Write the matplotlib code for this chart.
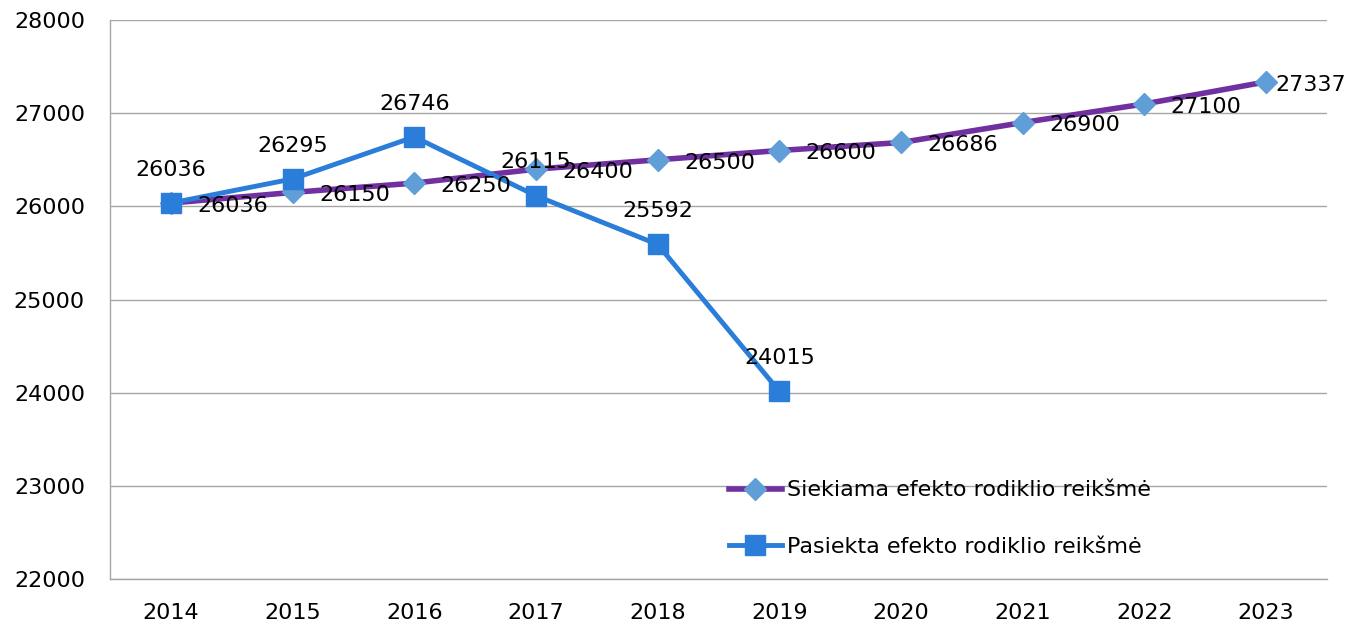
import numpy as np
import matplotlib.pyplot as plt

plt.rcParams['font.family'] = ['DejaVu Sans']

# duomenys
years = ['2014', '2015', '2016', '2017', '2018', '2019', '2020', '2021', '2022', '2023']
target = [26036, 26150, 26250, 26400, 26500, 26600, 26686, 26900, 27100, 27337]
achieved = [26036, 26295, 26746, 26115, 25592, 24015]
target_label = 'Siekiama efekto rodiklio reikšmė'
achieved_label = 'Pasiekta efekto rodiklio reikšmė'

fig = plt.figure(figsize=(13.48, 6.28), dpi=100)
ax = fig.add_axes([0.0816, 0.078, 0.9028, 0.890])

x = np.arange(len(years))
xa = np.arange(len(achieved))

ax.plot(x, target, color='#7030A0', linewidth=4, marker='D', markersize=11,
        markerfacecolor='#5F9ED6', markeredgecolor='#5F9ED6', label=target_label, zorder=3)
ax.plot(xa, achieved, color='#2A7DD9', linewidth=3.5, marker='s', markersize=14,
        markerfacecolor='#2A7DD9', markeredgecolor='#2A7DD9', label=achieved_label, zorder=4)

fs = 16
# etiketės dešinėje
for i, v in enumerate(target):
    dx = 19 if i < len(target) - 1 else 7
    ax.annotate(str(v), xy=(i, v), xytext=(dx, -2), textcoords='offset points',
                ha='left', va='center', fontsize=fs, color='black', zorder=5)
# etiketės viršuje
for i, v in enumerate(achieved):
    ax.annotate(str(v), xy=(i, v), xytext=(0, 24), textcoords='offset points',
                ha='center', va='center', fontsize=fs, color='black', zorder=5)

ax.set_xlim(-0.5, len(years) - 0.5)
ax.set_ylim(22000, 28000)
ax.set_yticks(np.arange(22000, 28001, 1000))
ax.set_xticks(x)
ax.set_xticklabels(years)
ax.tick_params(axis='both', length=0, labelsize=fs)
ax.tick_params(axis='y', pad=18)
ax.tick_params(axis='x', pad=17)
ax.yaxis.grid(True, color='#A6A6A6', linewidth=1)
ax.set_axisbelow(True)
for s in ['top', 'right']:
    ax.spines[s].set_visible(False)
for s in ['left', 'bottom']:
    ax.spines[s].set_color('#A6A6A6')
    ax.spines[s].set_linewidth(1)

leg = ax.legend(loc='center left', bbox_to_anchor=(0.492, 0.108), frameon=False,
                fontsize=fs, handlelength=2.4, handletextpad=0.2, labelspacing=1.65)

fig.savefig('out.png', dpi=100)
